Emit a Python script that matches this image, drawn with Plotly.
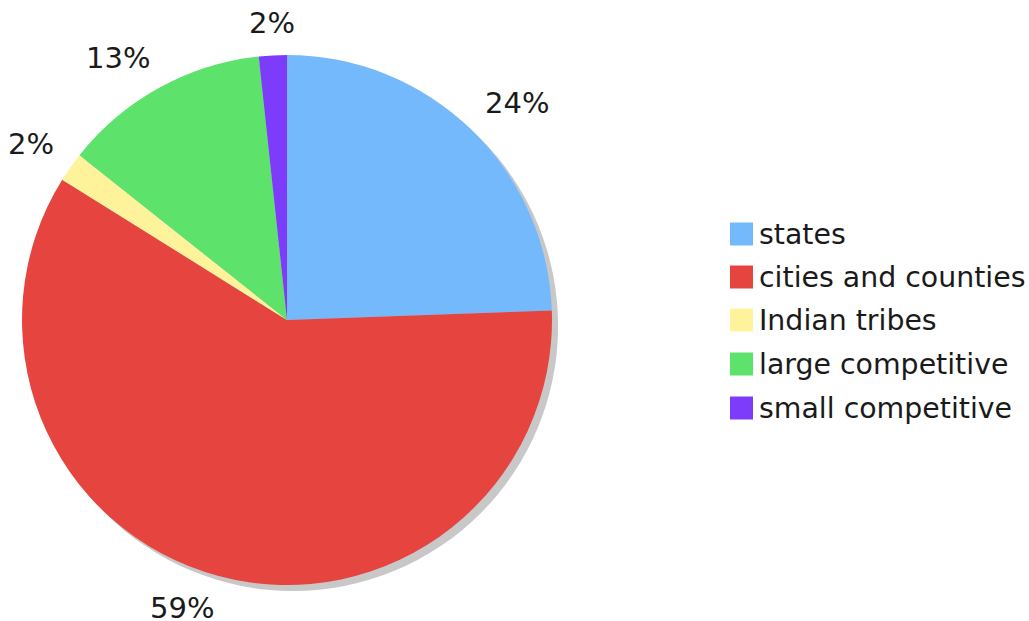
import math
import plotly.graph_objects as go

labels = ["states", "cities and counties", "Indian tribes", "large competitive", "small competitive"]
values = [24.4, 59.4, 1.8, 12.6, 1.7]
colors = ["#75b9fd", "#e5443f", "#fef39b", "#5de26c", "#7d3cfa"]

W, H = 1029, 621
cx, cy, r = 287, 320, 265
sh = 6
label_r = 286  # radius at which the nearest corner of each percentage label sits

def dom(cx, cy, rr):
    return dict(x=[(cx - rr) / W, (cx + rr) / W], y=[1 - (cy + rr) / H, 1 - (cy - rr) / H])

fig = go.Figure()
fig.add_trace(go.Pie(
    labels=["shadow"], values=[1], marker=dict(colors=["#c8c8c8"], line=dict(width=0)),
    textinfo="none", hoverinfo="skip", showlegend=False, domain=dom(cx + sh, cy + sh, r), sort=False,
))
fig.add_trace(go.Pie(
    labels=labels, values=values, sort=False, direction="clockwise", rotation=0,
    marker=dict(colors=colors, line=dict(width=0)),
    textinfo="none", showlegend=False, domain=dom(cx, cy, r),
))

# percentage labels placed outside each slice, along its mid-angle (derived from values)
total = sum(values)
cum = 0.0
for v in values:
    mid = (cum + v / 2) / total * 2 * math.pi
    cum += v
    s, c = math.sin(mid), math.cos(mid)
    px = cx + label_r * s
    py = cy - label_r * c
    if abs(s) < 0.15:
        xa, xs = "center", 0
    elif s > 0:
        xa, xs = "left", -3
    else:
        xa, xs = "right", 3
    if abs(c) < 0.15:
        ya, ys_ = "middle", 0
    elif c > 0:
        ya, ys_ = "bottom", -8
    else:
        ya, ys_ = "top", 7
    fig.add_annotation(x=px / W, y=1 - py / H, xref="paper", yref="paper",
                       text=f"{round(v / total * 100)}%", showarrow=False,
                       xanchor=xa, yanchor=ya, xshift=xs, yshift=ys_,
                       font=dict(family="DejaVu Sans", size=29, color="#1a1a1a"))

# legend built from the label/color arrays
ys = [234, 277, 320, 364, 408]
for lab, col, yy in zip(labels, colors, ys):
    fig.add_shape(type="rect", xref="paper", yref="paper",
                  x0=730 / W, x1=753 / W, y0=1 - (yy + 11.5) / H, y1=1 - (yy - 11.5) / H,
                  fillcolor=col, line=dict(width=0))
    fig.add_annotation(x=757 / W, y=1 - yy / H, xref="paper", yref="paper",
                       text=lab, showarrow=False, xanchor="left", yanchor="middle",
                       font=dict(family="DejaVu Sans", size=28.4, color="#1a1a1a"))

fig.update_layout(width=W, height=H, margin=dict(l=0, r=0, t=0, b=0, autoexpand=False),
                  paper_bgcolor="white", plot_bgcolor="white", showlegend=False)
fig.write_html("out.html")
